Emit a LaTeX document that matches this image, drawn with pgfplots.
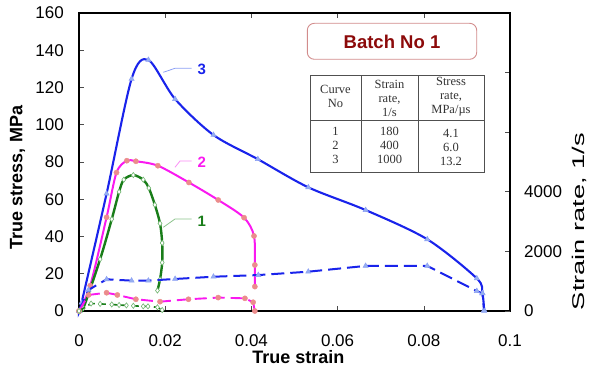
\documentclass[border=0pt]{standalone}
\usepackage{fontspec}
\setmainfont{Liberation Sans}
\newfontfamily\timesf{Liberation Serif}
\usepackage{graphicx}
\usepackage{pgfplots}
\pgfplotsset{compat=1.18}
\definecolor{cBlue}{RGB}{25,35,235}
\definecolor{cBlueM}{RGB}{150,175,240}
\definecolor{cBlueL}{RGB}{140,160,245}
\definecolor{cMag}{RGB}{250,25,240}
\definecolor{cMagM}{RGB}{235,140,140}
\definecolor{cMagL}{RGB}{250,140,245}
\definecolor{cGreen}{RGB}{25,125,25}
\definecolor{cGreenM}{RGB}{110,180,110}
\definecolor{cGreenL}{RGB}{140,195,140}
\definecolor{cRed}{RGB}{140,10,10}
\definecolor{cRedL}{RGB}{210,140,140}
\definecolor{cGrid}{RGB}{80,80,80}
\begin{document}
\begin{tikzpicture}
\useasboundingbox (0bp,0bp) rectangle (596bp,367bp);
\begin{axis}[
  at={(79bp,56bp)}, anchor=south west,
  scale only axis, width=431bp, height=298bp,
  xmin=0, xmax=0.1, ymin=0, ymax=160,
  xtick={0,0.02,0.04,0.06,0.08,0.1},
  xticklabels={0,0.02,0.04,0.06,0.08,0.1},
  ytick={0,20,40,60,80,100,120,140,160},
  yticklabels={0,20,40,60,80,100,120,140,160},
  xtick pos=both, ytick pos=left, tick align=inside,
  major tick length=5bp,
  tick style={black!70, line width=0.6pt},
  axis line style={black, line width=1.1pt},
  ticklabel style={font=\fontsize{17bp}{20bp}\selectfont},
  yticklabel style={anchor=east, inner sep=0pt, xshift=-15bp},
  xticklabel style={anchor=north, inner sep=0pt, yshift=-23bp},
  xlabel={True strain}, ylabel={True stress, MPa},
  label style={font=\bfseries\fontsize{18bp}{20bp}\selectfont},
  xlabel style={at={(axis description cs:0.509,-0.153)}, anchor=center},
  ylabel style={at={(axis description cs:-0.1427,0.448)}, anchor=center},
  clip=false,
]
% curve 3 stress
\addplot[cBlue, line width=2.1bp, smooth, mark=triangle*, mark size=3bp,
  mark options={fill=cBlueM, draw=cBlueL, line width=0.5pt}] coordinates {
  (0,0) (0.0006,4.5) (0.0064,63) (0.0122,124.6) (0.0161,134.8) (0.0223,113.8)
  (0.0312,94.5) (0.0415,81.5) (0.0532,66.4) (0.0665,54.2) (0.0808,38.5)
  (0.0923,17.5) (0.0936,9.5) (0.094,0.5)};
% curve 2 stress
\addplot[cMag, line width=2bp, smooth, mark=*, mark size=2.6bp,
  mark options={fill=cMagM, draw=cMagM, line width=0.4pt}] coordinates {
  (0,0) (0.0026,13.6) (0.0064,50.3) (0.0087,74.3) (0.0111,80.7) (0.0132,80.4)
  (0.0183,78) (0.0255,69) (0.0323,59.6) (0.0383,50.1) (0.0406,40.3)
  (0.0408,24.7) (0.0408,13.1)};
% curve 1 stress
\addplot[cGreen, line width=2.4bp, smooth, mark=diamond*, mark size=2.6bp,
  mark options={fill=white, draw=cGreenM, line width=0.6pt}] coordinates {
  (0,0) (0.001,1.5) (0.0049,27.8) (0.0076,49.3) (0.0093,64) (0.0104,70.5)
  (0.0126,73) (0.0149,70.5) (0.0162,66) (0.0176,57) (0.0188,47) (0.0193,36.5)
  (0.0193,26) (0.0188,17) (0.0182,11)};
\end{axis}
\begin{axis}[
  at={(79bp,56bp)}, anchor=south west,
  scale only axis, width=431bp, height=298bp,
  xmin=0, xmax=0.1, ymin=0, ymax=10000,
  axis x line=none, axis y line*=right,
  scaled y ticks=false,
  ytick={0,2000,4000,6000,8000},
  yticklabels={0,2000,4000,{},{}},
  tick align=inside, major tick length=5bp,
  tick style={black!70, line width=0.6pt},
  axis line style={black, line width=1.1pt},
  ticklabel style={font=\fontsize{17bp}{20bp}\selectfont},
  yticklabel style={anchor=west, inner sep=0pt, xshift=14bp},
  ylabel={\scalebox{1.6}[1]{Strain rate, 1/s}},
  ylabel style={at={(axis description cs:1.162,0.2997)}, anchor=center,
    font=\fontsize{17bp}{20bp}\selectfont},
  clip=false,
]
% curve 3 strain rate
\addplot[cBlue, line width=2bp, dash pattern=on 13bp off 6bp, mark=triangle*, mark size=3bp,
  mark options={solid, fill=cBlueM, draw=cBlueL, line width=0.5pt}] coordinates {
  (0,0) (0.0022,706) (0.0064,1063) (0.0122,1019) (0.0161,1019) (0.0223,1075)
  (0.0312,1150) (0.0416,1206) (0.0532,1319) (0.0665,1513) (0.0808,1513)
  (0.0923,669) (0.0936,594) (0.094,0)};
% curve 2 strain rate
\addplot[cMag, line width=1.9bp, dash pattern=on 12bp off 6bp, mark=*, mark size=2.6bp,
  mark options={solid, fill=cMagM, draw=cMagM, line width=0.4pt}] coordinates {
  (0,0) (0.0022,538) (0.0064,613) (0.0089,538) (0.0132,394) (0.0188,313)
  (0.0254,394) (0.0323,450) (0.0385,425) (0.0404,294) (0.0408,0)};
% curve 1 strain rate
\addplot[cGreen, line width=1.6bp, dash pattern=on 7bp off 4bp, mark=diamond*, mark size=2.6bp,
  mark options={solid, fill=white, draw=cGreenM, line width=0.6pt}] coordinates {
  (0,0) (0.0028,250) (0.0049,238) (0.0076,219) (0.0093,200) (0.011,188)
  (0.0126,175) (0.0149,156) (0.016,156) (0.0182,125) (0.0193,31)};
\end{axis}
% curve labels with leaders
\draw[cBlueL, line width=0.8pt] (163.3bp,294.7bp) -- (175bp,298.7bp) -- (191.7bp,298.7bp);
\node[text=cBlue, font=\bfseries\fontsize{15bp}{17bp}\selectfont] at (201.7bp,298bp) {3};
\draw[cMagL, line width=0.8pt] (175bp,199.7bp) -- (180bp,206bp) -- (191.7bp,206bp);
\node[text=cMag, font=\bfseries\fontsize{15bp}{17bp}\selectfont] at (201.7bp,205bp) {2};
\draw[cGreenL, line width=0.8pt] (163.3bp,139.7bp) -- (175bp,148bp) -- (191.7bp,148bp);
\node[text=cGreen, font=\bfseries\fontsize{15bp}{17bp}\selectfont] at (201.7bp,146bp) {1};
% Batch box
\draw[cRedL, line width=0.9pt, rounded corners=7bp, fill=white] (307.3bp,307.7bp) rectangle (476.7bp,343.7bp);
\node[text=cRed, font=\bfseries\fontsize{18.5bp}{20bp}\selectfont] at (392bp,325.5bp) {Batch No 1};
% table
\draw[cGrid, line width=0.8pt, fill=white] (310bp,195bp) rectangle (484bp,292bp);
\draw[cGrid, line width=0.8pt] (361bp,195bp) -- (361bp,292bp);
\draw[cGrid, line width=0.8pt] (418.3bp,195bp) -- (418.3bp,292bp);
\draw[cGrid, line width=0.8pt] (310bp,247bp) -- (484bp,247bp);
\begin{scope}[every node/.style={text=black!80, align=center, inner sep=0pt,
    font=\timesf\fontsize{12.5bp}{14bp}\selectfont}]
\node at (335.5bp,270.7bp) {Curve\\No};
\node at (389.5bp,268.5bp) {Strain\\rate,\\1/s};
\node at (451bp,270.7bp) {Stress\\rate,\\MPa/µs};
\node at (335.5bp,221.5bp) {1\\2\\3};
\node at (389.5bp,221.5bp) {180\\400\\1000};
\node at (451bp,219.6bp) {4.1\\6.0\\13.2};
\end{scope}
\end{tikzpicture}
\end{document}
